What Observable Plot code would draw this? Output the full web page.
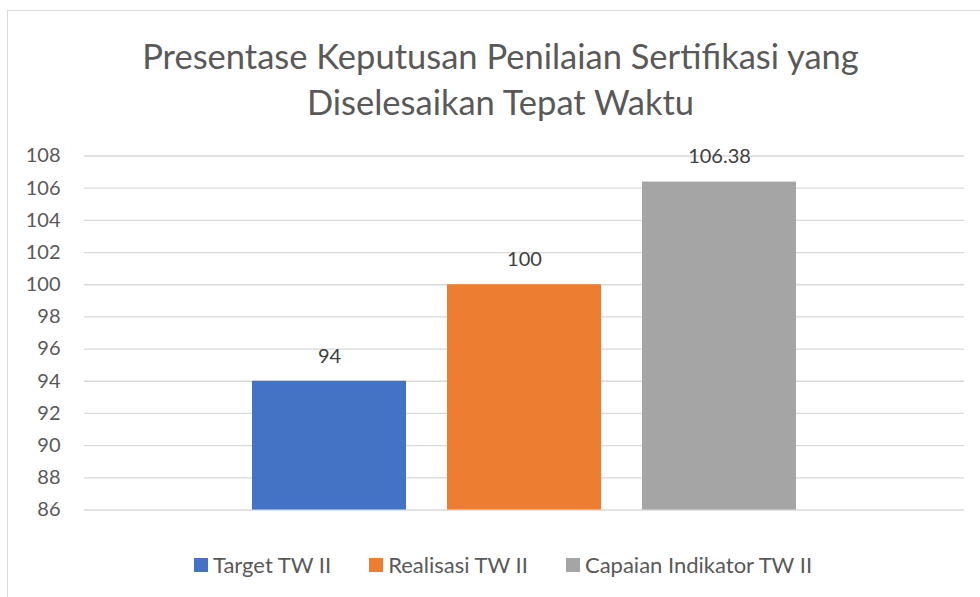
<!DOCTYPE html>
<html>
<head>
<meta charset="utf-8">
<script src="https://cdn.jsdelivr.net/npm/d3@7"></script>
<script src="https://cdn.jsdelivr.net/npm/@observablehq/plot@0.6"></script>
<style>
  html, body { margin: 0; padding: 0; background: #fff; }
  #wrap { position: relative; width: 980px; height: 597px; overflow: hidden; font-family: Lato, "Open Sans", sans-serif; }
  #border { position: absolute; left: 7px; top: 10px; width: 1000px; height: 700px; border: 1px solid #d9d9d9; box-sizing: border-box; }
  #title { position: absolute; left: 0; width: 1001px; top: 33px; text-align: center; font-size: 34.5px; line-height: 46px; color: #595959; }
  #chart { position: absolute; left: 0; top: 0; }
  #legend { position: absolute; top: 551px; left: 0; width: 1006px; display: flex; justify-content: center; gap: 38px; font-size: 22px; color: #595959; }
  .item { display: flex; align-items: center; }
  .sw { width: 14px; height: 14px; margin-right: 5px; }
</style>
</head>
<body>
<div id="wrap">
  <div id="border"></div>
  <div id="title">Presentase Keputusan Penilaian Sertifikasi yang<br>Diselesaikan Tepat Waktu</div>
  <div id="chart"></div>
  <div id="legend"></div>
</div>
<script>
const series = ["Target TW II", "Realisasi TW II", "Capaian Indikator TW II"];
const values = [94, 100, 106.38];
const labels = ["94", "100", "106.38"];
const colors = ["#4472C4", "#ED7D31", "#A5A5A5"];
const yTicks = [86, 88, 90, 92, 94, 96, 98, 100, 102, 104, 106, 108];

const data = series.map((s, i) => ({series: s, value: values[i], label: labels[i]}));

const chart = Plot.plot({
  width: 980,
  height: 597,
  marginLeft: 84,
  marginRight: 16,
  marginTop: 155.5,
  marginBottom: 87.5,
  style: {fontFamily: "Lato, 'Open Sans', sans-serif", fontSize: "20px", color: "#595959", background: "transparent"},
  x: {domain: series, paddingInner: 0.21, paddingOuter: 0.86, axis: null},
  y: {domain: [86, 108], ticks: yTicks, label: null},
  color: {domain: series, range: colors},
  marks: [
    Plot.ruleY(yTicks, {stroke: "#d9d9d9", strokeWidth: 1.3, strokeOpacity: 1}),
    Plot.axisY({ticks: yTicks, tickSize: 0, tickPadding: 24, label: null, fill: "#595959", fontSize: 20}),
    Plot.rectY(data, {x: "series", y1: 86, y2: "value", fill: "series"}),
    Plot.text(data, {x: "series", y: "value", text: "label", dy: -25, fill: "#404040", fontSize: 20})
  ]
});
document.getElementById("chart").appendChild(chart);

const legend = document.getElementById("legend");
series.forEach((s, i) => {
  const item = document.createElement("div");
  item.className = "item";
  const sw = document.createElement("div");
  sw.className = "sw";
  sw.style.background = colors[i];
  const t = document.createElement("span");
  t.textContent = s;
  item.appendChild(sw);
  item.appendChild(t);
  legend.appendChild(item);
});
</script>
</body>
</html>
